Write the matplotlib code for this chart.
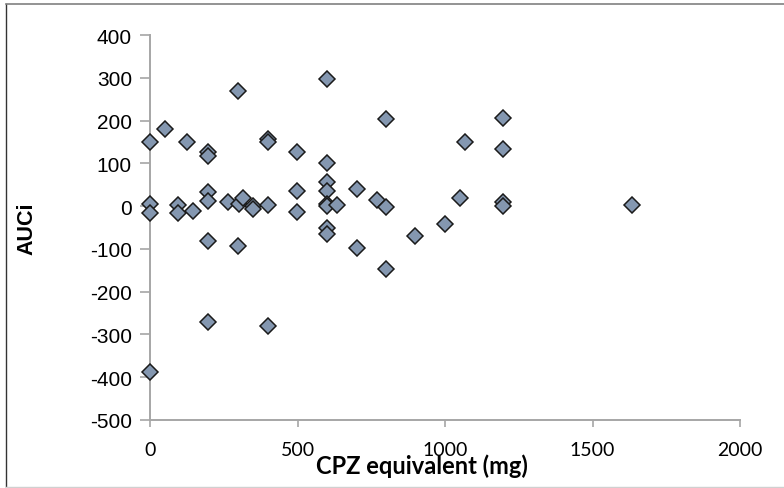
import matplotlib
matplotlib.use("Agg")
import matplotlib.pyplot as plt
from matplotlib.lines import Line2D

plt.rcParams['axes.unicode_minus'] = False

# Data
cpz = [0, 0, 0, 0, 50, 96, 96, 124, 147, 198, 198, 198, 198, 198, 198,
       265, 297, 300, 297, 316, 350, 350, 401, 401, 401, 401, 497, 497, 497,
       599, 599, 599, 599, 599, 599, 599, 599, 635, 700, 700, 768, 799, 799,
       799, 898, 1000, 1051, 1068, 1198, 1198, 1198, 1198, 1633]
auci = [150, 6, -15, -388, 180, 3, -15, 149, -11, 127, 118, 32, 12, -81, -272,
        10, 270, 6, -93, 18, 1, -7, 157, 150, 2, -280, 127, 36, -13,
        297, 100, 57, 36, 6, 1, -52, -65, 2, 40, -97, 14, 203, -3,
        -147, -69, -42, 20, 149, 206, 133, 10, 1, 2]
xticks = [0, 500, 1000, 1500, 2000]
yticks = [400, 300, 200, 100, 0, -100, -200, -300, -400, -500]

fig = plt.figure(figsize=(7.84, 4.89), dpi=100)
ax = fig.add_axes([150/784, 68/489, 590/784, 385/489])

ax.plot(cpz, auci, linestyle='none', marker='D', markersize=8.6,
        markerfacecolor='#8497B0', markeredgecolor='#1a1a1a',
        markeredgewidth=1.1, clip_on=False, zorder=3)

ax.set_xlim(0, 2000)
ax.set_ylim(-500, 400)
ax.set_xticks(xticks)
ax.set_yticks(yticks)

spine_c = '#A6A6A6'
for s in ['top', 'right']:
    ax.spines[s].set_visible(False)
for s in ['left', 'bottom']:
    ax.spines[s].set_color(spine_c)
    ax.spines[s].set_linewidth(1.4)
ax.tick_params(axis='both', direction='out', color=spine_c, width=1.2)
ax.tick_params(axis='y', length=7, pad=6)
ax.tick_params(axis='x', length=5, pad=10)

for lab in ax.get_yticklabels():
    lab.set_fontfamily('Liberation Sans')
    lab.set_fontsize(15)
for lab in ax.get_xticklabels():
    lab.set_fontfamily('Lato')
    lab.set_fontsize(14)

ax.set_ylabel('AUCi', fontfamily='Liberation Sans', fontweight='bold', fontsize=15.5)
ax.yaxis.set_label_coords(-0.19, 0.50)
ax.set_xlabel('CPZ equivalent (mg)', fontfamily='Lato', fontweight='bold', fontsize=17)
ax.xaxis.set_label_coords(0.461, -0.088)

# outer frame
fig.add_artist(Line2D([6/784, 6/784], [1/489, 484/489], transform=fig.transFigure,
                      color='#333333', lw=1.0))
fig.add_artist(Line2D([6/784, 1.0], [484/489, 484/489], transform=fig.transFigure,
                      color='#808080', lw=1.2))
fig.add_artist(Line2D([6/784, 1.0], [1.5/489, 1.5/489], transform=fig.transFigure,
                      color='#D0D0D0', lw=1.0))

fig.savefig('out.png', dpi=100)
